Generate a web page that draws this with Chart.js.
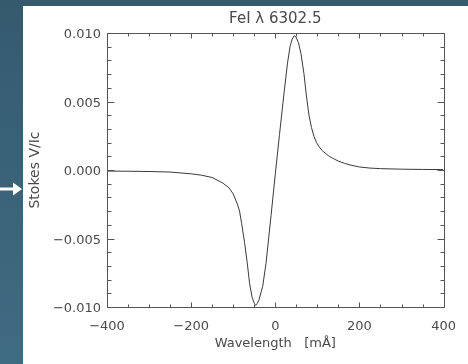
<!DOCTYPE html>
<html>
<head>
<meta charset="utf-8">
<script src="https://cdn.jsdelivr.net/npm/chart.js@4/dist/chart.umd.min.js"></script>
<style>
  html, body { margin: 0; padding: 0; }
  body {
    width: 468px; height: 364px; overflow: hidden; position: relative;
    background: linear-gradient(to bottom, #355a6e 0%, #3a6378 50%, #3f6b82 100%);
  }
  #panel { position: absolute; left: 23px; top: 6px; width: 445px; height: 358px; background: #ffffff; }
  #c { position: absolute; left: 0; top: 0; }
  #arrow { position: absolute; left: 0; top: 182px; }
</style>
</head>
<body>
<svg id="arrow" width="23" height="14" viewBox="0 0 23 14">
  <polygon points="0,5.5 13,5.5 13,0.5 22,7 13,13.5 13,8.5 0,8.5" fill="#ffffff"/>
</svg>
<div id="panel"><canvas id="c" width="445" height="358"></canvas></div>
<script>
// Wavelength offsets [mÅ]
const wavelengths = [-400, -350, -300, -250, -200, -175, -150, -125, -110, -100, -90, -85, -80, -73, -67, -61, -55, -50, -47, -43, -39, -30, -22, -10, 0, 10, 20, 29, 35, 40, 45, 49, 55, 61, 68, 74, 80, 86, 92, 98, 104, 112, 120, 128, 140, 150, 165, 180, 200, 225, 250, 300, 350, 400];
// Stokes V/Ic values (in units of 1e-3)
const stokesV_milli = [-0.08, -0.09, -0.11, -0.15, -0.28, -0.38, -0.55, -0.95, -1.3, -1.75, -2.5, -3.0, -3.9, -5.3, -6.7, -8.3, -9.3, -9.72, -9.88, -9.75, -9.5, -8.5, -6.8, -3.3, -0.3, 2.6, 5.4, 7.8, 9.0, 9.55, 9.8, 9.72, 9.3, 8.5, 7.05, 5.4, 4.0, 3.1, 2.45, 2.0, 1.7, 1.4, 1.2, 1.0, 0.8, 0.65, 0.48, 0.35, 0.22, 0.14, 0.1, 0.06, 0.04, 0.03];
const stokesV = stokesV_milli.map(v => v / 1000);
const xTickValues = [-400, -200, 0, 200, 400];
const yTickValues = [-0.010, -0.005, 0.000, 0.005, 0.010];
const titleText = 'FeI \u03BB 6302.5';
const xTitle = 'Wavelength   [m\u00C5]';
const yTitle = 'Stokes V/Ic';

const points = wavelengths.map((w, i) => ({ x: w, y: stokesV[i] }));
const TXT = '#4a4a4a';
const FONT = "'DejaVu Sans', sans-serif";
const fmtMinus = s => s.replace('-', '\u2212');

const boxTicks = {
  id: 'boxTicks',
  afterDatasetsDraw(chart) {
    const { ctx, chartArea: a, scales: { x, y } } = chart;
    ctx.save();
    ctx.strokeStyle = '#555555';
    ctx.lineWidth = 1;
    const L = Math.round(a.left) + 0.5, R = Math.round(a.right) + 0.5;
    const T = Math.round(a.top) + 0.5, B = Math.round(a.bottom) + 0.5;
    ctx.beginPath();
    ctx.rect(L, T, R - L, B - T);
    for (let v = -400; v <= 400; v += 50) {
      const px = Math.round(x.getPixelForValue(v)) + 0.5;
      const len = (v % 200 === 0) ? 5 : 3;
      ctx.moveTo(px, B); ctx.lineTo(px, B - len);
      ctx.moveTo(px, T); ctx.lineTo(px, T + len);
    }
    for (let i = -10; i <= 10; i++) {
      const py = Math.round(y.getPixelForValue(i / 1000)) + 0.5;
      const len = (i % 5 === 0) ? 7 : 4;
      ctx.moveTo(L, py); ctx.lineTo(L + len, py);
      ctx.moveTo(R, py); ctx.lineTo(R - len, py);
    }
    ctx.stroke();
    // title centred over the plot box
    ctx.fillStyle = TXT;
    ctx.font = "15px " + FONT;
    ctx.textAlign = 'center';
    ctx.textBaseline = 'middle';
    ctx.fillText(titleText, (a.left + a.right) / 2, 13);
    ctx.restore();
  }
};

new Chart(document.getElementById('c'), {
  type: 'line',
  data: {
    datasets: [{
      data: points,
      borderColor: '#3a3a3a',
      borderWidth: 1,
      pointRadius: 0,
      tension: 0,
      fill: false
    }]
  },
  options: {
    responsive: false,
    animation: false,
    devicePixelRatio: 1,
    layout: { padding: { left: 0, right: 23, top: 27, bottom: 0 } },
    plugins: {
      legend: { display: false },
      tooltip: { enabled: false },
      title: { display: false }
    },
    scales: {
      x: {
        type: 'linear',
        min: -400, max: 400,
        grid: { display: false, drawTicks: false },
        border: { display: false },
        afterBuildTicks: s => { s.ticks = xTickValues.map(v => ({ value: v })); },
        afterFit: s => { s.height = 57; },
        ticks: {
          color: TXT,
          font: { family: FONT, size: 13 },
          padding: 12,
          maxRotation: 0,
          autoSkip: false,
          callback: v => fmtMinus(String(Math.round(v)))
        },
        title: {
          display: true, text: xTitle, color: TXT,
          font: { family: FONT, size: 13 },
          padding: { top: 0, bottom: 13 }
        }
      },
      y: {
        type: 'linear',
        min: -0.010, max: 0.010,
        grid: { display: false, drawTicks: false },
        border: { display: false },
        afterBuildTicks: s => { s.ticks = yTickValues.map(v => ({ value: v })); },
        afterFit: s => { s.width = 84; },
        ticks: {
          color: TXT,
          font: { family: FONT, size: 13 },
          padding: 6,
          autoSkip: false,
          labelOffset: 2,
          callback: v => fmtMinus((Math.abs(v) < 1e-12 ? 0 : v).toFixed(3))
        },
        title: {
          display: true, text: yTitle, color: TXT,
          font: { family: FONT, size: 14 },
          padding: { top: 4, bottom: 0 }
        }
      }
    }
  },
  plugins: [boxTicks]
});
</script>
</body>
</html>
